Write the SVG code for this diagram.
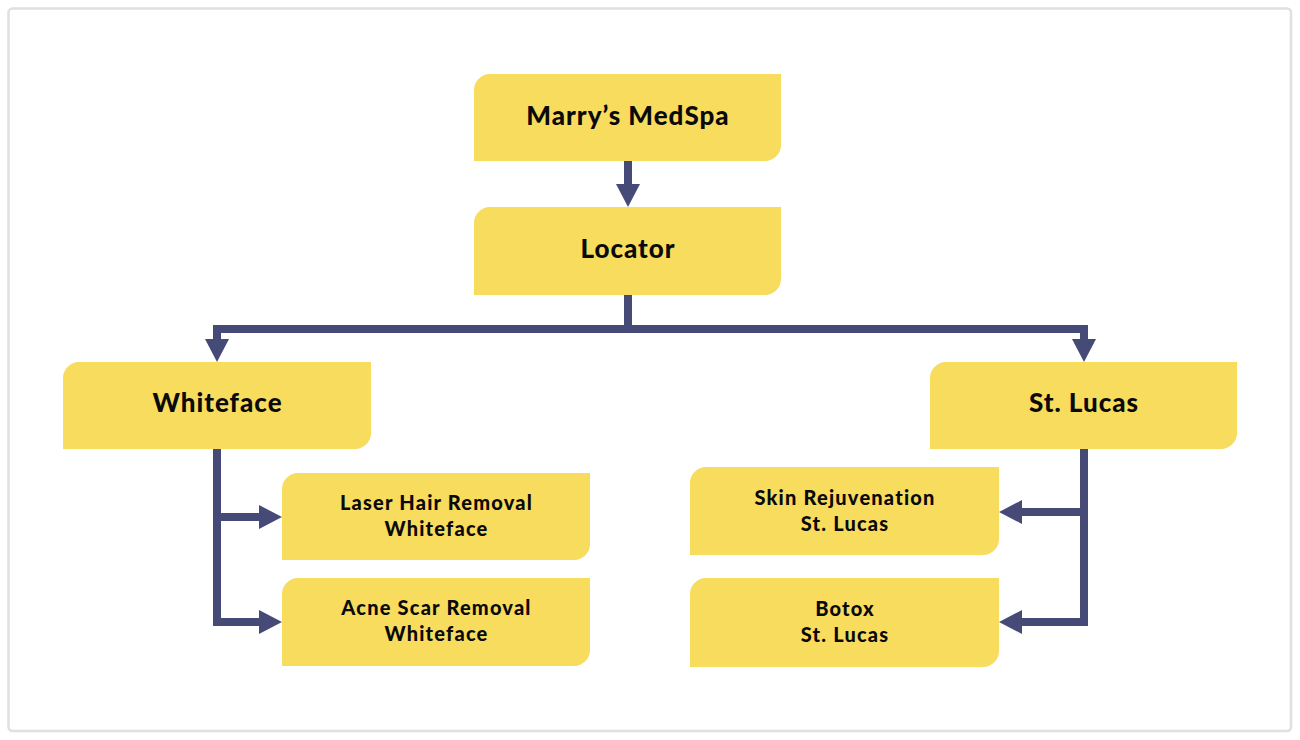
<svg xmlns="http://www.w3.org/2000/svg" width="1300" height="740" viewBox="0 0 1300 740">
  <style>
    .box { fill: #F8DC5E; }
    .t { font-family: Lato, "Noto Sans", "Liberation Sans", sans-serif; font-weight: 900; fill: #0a0a0a; text-anchor: middle; }
    .big { font-size: 26px; letter-spacing: 1px; }
    .small { font-size: 20px; letter-spacing: 1.2px; }
    .conn { fill: none; stroke: #454A77; stroke-width: 8; stroke-linejoin: miter; }
  </style>
  <defs>
    <marker id="arrow" viewBox="0 0 23 24" refX="1" refY="12" markerWidth="23" markerHeight="24" markerUnits="userSpaceOnUse" orient="auto">
      <path d="M0,0 L23,12 L0,24 Z" fill="#454A77"/>
    </marker>
  </defs>
  <rect x="0" y="0" width="1300" height="740" fill="#ffffff"/>
  <rect x="8.5" y="8.5" width="1282.5" height="722.5" rx="4" fill="#ffffff" stroke="#e0e0e0" stroke-width="2.5"/>

  <g id="connectors">
    <path class="conn" d="M628,161 V185" marker-end="url(#arrow)"/>
    <path class="conn" d="M628,295 V329 H217 V340" marker-end="url(#arrow)"/>
    <path class="conn" d="M628,329 H1084 V340" marker-end="url(#arrow)"/>
    <path class="conn" d="M217,449 V622 H260" marker-end="url(#arrow)"/>
    <path class="conn" d="M217,517 H260" marker-end="url(#arrow)"/>
    <path class="conn" d="M1084,449 V622 H1021" marker-end="url(#arrow)"/>
    <path class="conn" d="M1084,512 H1021" marker-end="url(#arrow)"/>
  </g>

  <g id="medspa">
    <path class="box" d="M490,74 H781 V145 A16,16 0 0 1 765,161 H474 V90 A16,16 0 0 1 490,74 Z"/>
    <text class="t big" x="628" y="125">Marry’s MedSpa</text>
  </g>
  <g id="locator">
    <path class="box" d="M490,207 H781 V279 A16,16 0 0 1 765,295 H474 V223 A16,16 0 0 1 490,207 Z"/>
    <text class="t big" x="628" y="258">Locator</text>
  </g>
  <g id="whiteface">
    <path class="box" d="M79,362 H371 V433 A16,16 0 0 1 355,449 H63 V378 A16,16 0 0 1 79,362 Z"/>
    <text class="t big" x="217.5" y="412">Whiteface</text>
  </g>
  <g id="stlucas">
    <path class="box" d="M946,362 H1237 V433 A16,16 0 0 1 1221,449 H930 V378 A16,16 0 0 1 946,362 Z"/>
    <text class="t big" x="1084" y="412">St. Lucas</text>
  </g>
  <g id="laser">
    <path class="box" d="M298,473 H590 V544 A16,16 0 0 1 574,560 H282 V489 A16,16 0 0 1 298,473 Z"/>
    <text class="t small" x="436.5" y="510">Laser Hair Removal</text>
    <text class="t small" x="436.5" y="536">Whiteface</text>
  </g>
  <g id="acne">
    <path class="box" d="M298,578 H590 V650 A16,16 0 0 1 574,666 H282 V594 A16,16 0 0 1 298,578 Z"/>
    <text class="t small" x="436.5" y="615">Acne Scar Removal</text>
    <text class="t small" x="436.5" y="641">Whiteface</text>
  </g>
  <g id="skin">
    <path class="box" d="M706,467 H999 V539 A16,16 0 0 1 983,555 H690 V483 A16,16 0 0 1 706,467 Z"/>
    <text class="t small" x="845" y="505">Skin Rejuvenation</text>
    <text class="t small" x="845" y="531">St. Lucas</text>
  </g>
  <g id="botox">
    <path class="box" d="M706,578 H999 V651 A16,16 0 0 1 983,667 H690 V594 A16,16 0 0 1 706,578 Z"/>
    <text class="t small" x="845" y="616">Botox</text>
    <text class="t small" x="845" y="642">St. Lucas</text>
  </g>
</svg>
